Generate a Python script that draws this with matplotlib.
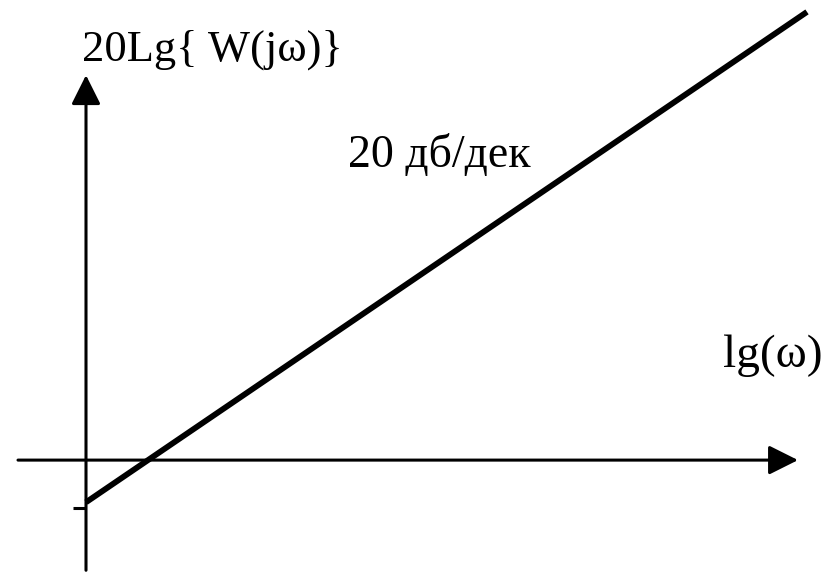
import matplotlib
matplotlib.use("Agg")
import matplotlib.pyplot as plt

# asymptotic LAFC of a differentiating element, 20 dB per decade
lg_omega = [0.0, 7.21]
gain_db = [-12.4, 131.8]

# axis extents (lg units / dB)
x_axis = [-0.68, 7.12]
y_axis = [-32.4, 113.2]
tick_x = [-0.13, 0.0]
tick_y = -14.1

y_label = "20Lg{ W(jω)}"
x_label = "lg(ω)"
slope_label = "20 дб/дек"

plt.rcParams['font.family'] = ['Liberation Serif', 'DejaVu Serif']

fig = plt.figure(figsize=(8.33, 5.73), dpi=100)
ax = fig.add_axes([0, 0, 1, 1])
ax.set_xlim(-0.86, 7.47)
ax.set_ylim(-33.2, 135.3)
ax.axis('off')

arrow = dict(arrowstyle='-|>,head_length=0.9,head_width=0.45', lw=2.2,
             color='black', mutation_scale=20, shrinkA=0, shrinkB=0)
# horizontal axis
ax.annotate('', xy=(x_axis[1], 0), xytext=(x_axis[0], 0), arrowprops=arrow)
# vertical axis
ax.annotate('', xy=(0, y_axis[1]), xytext=(0, y_axis[0]), arrowprops=arrow)
# small mark on the gain axis
ax.plot(tick_x, [tick_y, tick_y], color='black', lw=2.2, solid_capstyle='butt')

ax.plot(lg_omega, gain_db, color='black', lw=4.2, solid_capstyle='butt')

ax.text(-0.04, 117.4, y_label, fontsize=32, va='baseline', ha='left')
ax.text(2.62, 86.2, slope_label, fontsize=33, va='baseline', ha='left')
ax.text(6.37, 27.4, x_label, fontsize=34, va='baseline', ha='left')

fig.savefig('out.png', dpi=100)
